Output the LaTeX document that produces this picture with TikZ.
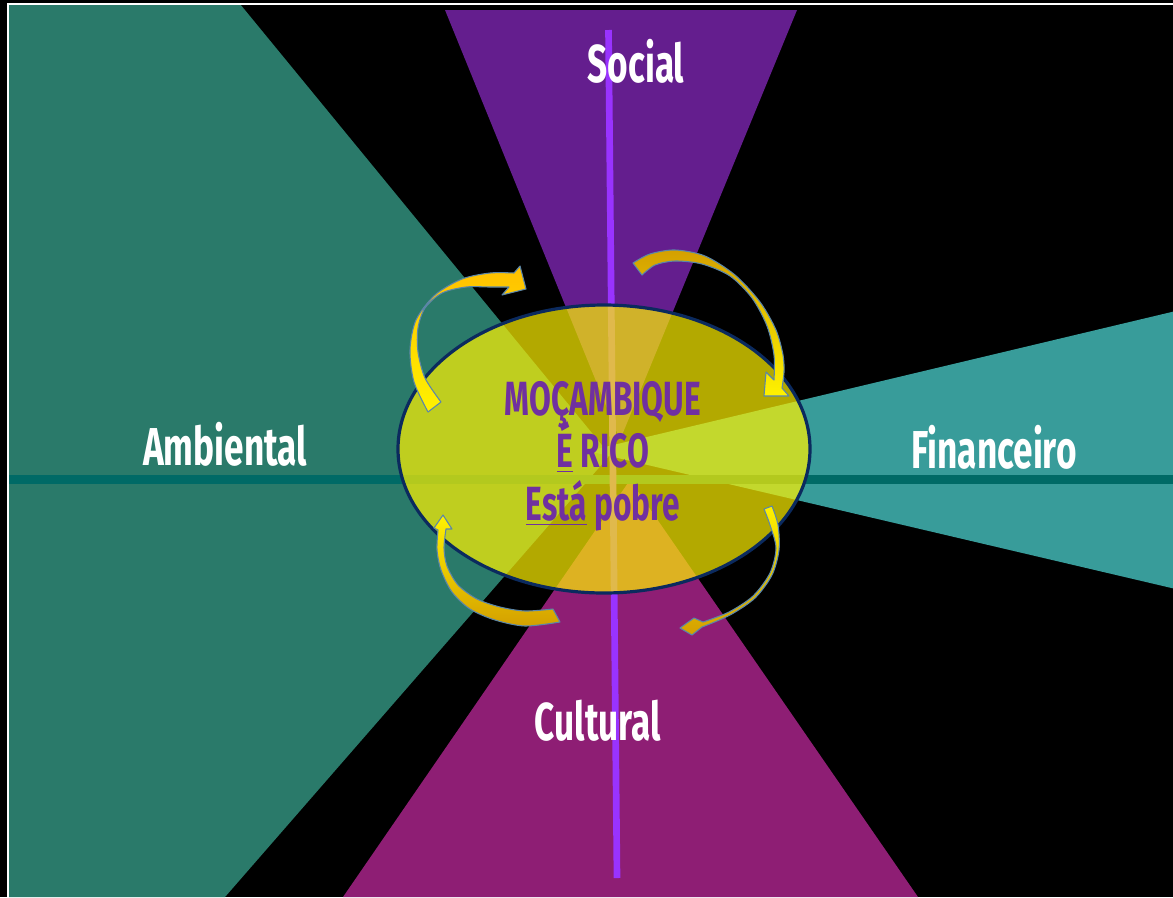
\documentclass[tikz,border=0pt]{standalone}
\usepackage{fontspec}
\setmainfont{Fira Sans}[FakeStretch=0.66]
\definecolor{ambcol}{HTML}{2A7A6A}
\definecolor{fincol}{HTML}{389C9A}
\definecolor{soccol}{HTML}{641E8E}
\definecolor{culcol}{HTML}{8E1E74}
\definecolor{hcol}{HTML}{006A66}
\definecolor{vcol}{HTML}{9933FF}
\definecolor{elborder}{HTML}{0B2A5E}
\definecolor{txtcol}{HTML}{7030A0}
\definecolor{goldc}{HTML}{FFC000}
\definecolor{darkgold}{HTML}{D4A000}
\definecolor{yelc}{HTML}{FFF200}
\definecolor{arrowedge}{HTML}{5B86A8}
\newcommand\ulbox[1]{\setbox0\hbox{#1}\rlap{\rule[-4pt]{\wd0}{1.3pt}}\box0\relax}
\tikzset{
  lbl/.style={text=white, font=\bfseries\fontsize{40}{44}\selectfont, inner sep=0pt},
  maintext/.style={text=txtcol, font=\bfseries\fontsize{36}{40}\selectfont, inner sep=0pt},
  curvearrow/.style={draw=arrowedge, line width=0.8pt, line join=round},
  hline/.style={draw=hcol, line width=6.8pt},
  vline/.style={draw=vcol, line width=5pt},
}
\begin{document}
\begin{tikzpicture}[x=0.75pt,y=-0.75pt]
\useasboundingbox (0,0) rectangle (1173,897);
\clip (0,0) rectangle (1173,897);
\fill[black] (0,0) rectangle (1173,897);
% sectors
\fill[ambcol] (8,4) -- (240,4) -- (610,455) -- (225,897) -- (8,897) -- cycle;
\fill[fincol] (588,451) -- (1180,310) -- (1180,590) -- cycle;
\fill[soccol] (445,10) -- (797,10) -- (620,440) -- cycle;
\fill[culcol] (343,897) -- (918,897) -- (630,480) -- cycle;
% axes
\draw[hline] (8,479.5) -- (1180,479.5);
\draw[vline] (608.5,30) -- (617,878);
% white frame
\draw[white, line width=1.5pt] (7.5,3.5) rectangle (1190,910);
% central ellipse
\path[fill=yellow, fill opacity=0.7, draw=elborder, line width=2.4pt] (604,449) ellipse [x radius=206, y radius=144];
% text
\node[maintext, anchor=base] (t1) at (603,415) {MOÇAMBIQUE};
\node[maintext, anchor=base] (t2) at (603,467) {\ulbox{É} RICO};
\node[maintext, anchor=base] (t3) at (603,520) {\ulbox{Está} pobre};
\node[lbl, anchor=base] (soc) at (636,82) {Social};
\node[lbl, anchor=base] (amb) at (225,465) {Ambiental};
\node[lbl, anchor=base] (fin) at (994,468) {Financeiro};
\node[lbl, anchor=base] (cul) at (598,740) {Cultural};
% arrow upper-left
\path[curvearrow, top color=goldc, bottom color=yelc]
  (428,412) -- plot[smooth] coordinates {(428,412) (414,382) (410,350) (416,320) (435,295) (462,279) (490,273) (514,273)}
  -- (520,266) -- (526,289) -- (502,295) -- (509,287)
  -- plot[smooth] coordinates {(509,287) (490,287) (466,287) (442,293) (425,308) (418,328) (418,352) (425,378) (441,402)}
  -- cycle;
% arrow upper-right
\path[curvearrow, top color=darkgold, bottom color=yelc]
  (633,263) -- plot[smooth] coordinates {(633,263) (650,254) (675,250) (705,256) (735,275) (760,302) (776,330) (783,355) (784,372) (782,388)}
  -- (789,396) -- (764,396) -- (766,372) -- (774,380)
  -- plot[smooth] coordinates {(774,380) (774,355) (767,326) (752,298) (730,276) (702,264) (675,261) (655,265) (642,275)}
  -- cycle;
% arrow lower-left
\path[curvearrow, top color=yelc, bottom color=darkgold]
  (443,515) -- (452,529) -- (446,529)
  -- plot[smooth] coordinates {(446,529) (444,548) (447,566) (458,585) (477,599) (500,607) (525,611) (553,609)}
  -- (560,622)
  -- plot[smooth] coordinates {(560,622) (525,626) (495,620) (470,609) (452,592) (441,570) (437,550) (438,530)}
  -- (434,528) -- cycle;
% arrow lower-right
\path[curvearrow, top color=yelc, bottom color=darkgold]
  (772,506) -- plot[smooth] coordinates {(772,506) (778,525) (779,550) (772,575) (755,598) (730,615) (702,627)}
  -- (692,635) -- (680,628) -- (694,618) -- (703,622)
  -- plot[smooth] coordinates {(703,622) (729,612) (753,596) (770,573) (776,548) (770,525) (764,509)}
  -- cycle;
\end{tikzpicture}
\end{document}
